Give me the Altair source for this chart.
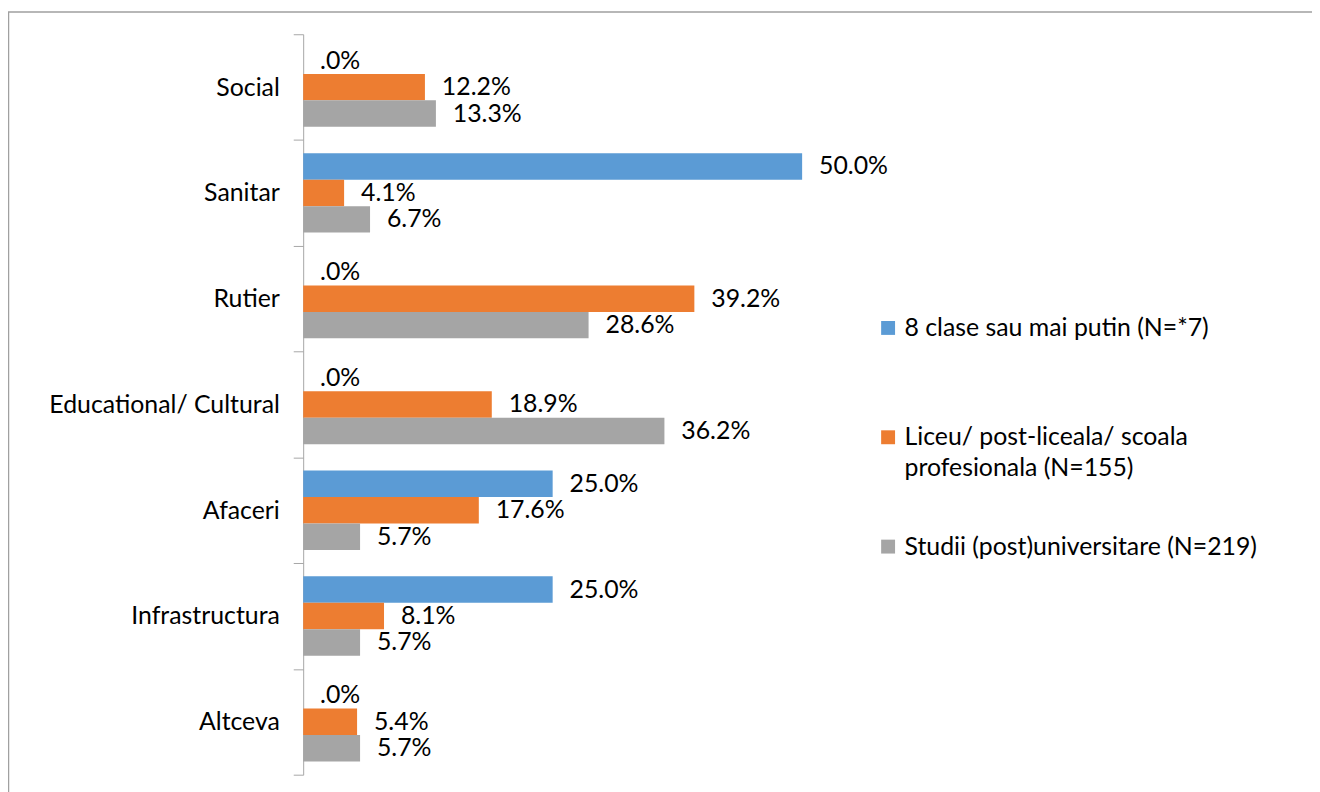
import altair as alt
import pandas as pd

categories = ["Social", "Sanitar", "Rutier", "Educational/ Cultural", "Afaceri", "Infrastructura", "Altceva"]
series = ["8 clase sau mai putin (N=*7)",
          "Liceu/ post-liceala/ scoala profesionala (N=155)",
          "Studii (post)universitare (N=219)"]
colors = ["#5B9BD5", "#ED7D31", "#A5A5A5"]
v_8clase = [0.0, 50.0, 0.0, 0.0, 25.0, 25.0, 0.0]
v_liceu = [12.2, 4.1, 39.2, 18.9, 17.6, 8.1, 5.4]
v_studii = [13.3, 6.7, 28.6, 36.2, 5.7, 5.7, 5.7]

rows = []
for s, vals in zip(series, [v_8clase, v_liceu, v_studii]):
    for c, v in zip(categories, vals):
        rows.append({"cat": c, "series": s, "v": v})
df = pd.DataFrame(rows)

FONT = "Lato"
FS = 25
W, H = 502, 745

y_enc = alt.Y("cat:N", sort=categories,
              scale=alt.Scale(paddingInner=0, paddingOuter=0),
              axis=alt.Axis(title=None, labelFont=FONT, labelFontSize=FS, labelColor="#000000",
                            labelPadding=14, tickSize=10, tickColor="#A6A6A6",
                            domainColor="#A6A6A6", tickBand="extent", labelLimit=400))
yoff = alt.YOffset("series:N", sort=series,
                   scale=alt.Scale(paddingInner=0, paddingOuter=0.5))
x_enc = alt.X("v:Q", scale=alt.Scale(domain=[0, 50]), axis=None)

base = alt.Chart(df)

bars = base.mark_bar().encode(
    y=y_enc, yOffset=yoff, x=x_enc,
    color=alt.Color("series:N", sort=series,
                    scale=alt.Scale(domain=series, range=colors),
                    legend=alt.Legend(title=None, orient="none", legendX=576, legendY=283,
                                      symbolType="square", symbolSize=196, symbolStrokeWidth=0,
                                      labelFont=FONT, labelFontSize=FS, labelColor="#000000",
                                      labelOffset=4, rowPadding=53, labelLimit=600,
                                      gridAlign="all",
                                      labelExpr="datum.label == 'Liceu/ post-liceala/ scoala profesionala (N=155)' ? ['Liceu/ post-liceala/ scoala', 'profesionala (N=155)'] : datum.label")),
)

labels = base.mark_text(align="left", baseline="middle", dx=17, font=FONT, fontSize=FS,
                        color="#000000").encode(
    y=alt.Y("cat:N", sort=categories), yOffset=yoff, x="v:Q",
    text="lbl:N",
).transform_calculate(lbl="datum.v == 0 ? '.0%' : format(datum.v, '.1f') + '%'")

frame = alt.Chart(pd.DataFrame({"a": [0]})).mark_rect(
    fill=None, stroke="#A0A0A0", strokeWidth=1.5
).encode(x=alt.value(-296.5), x2=alt.value(1100), y=alt.value(-22.5), y2=alt.value(900))

chart = alt.layer(frame, bars, labels).properties(
    width=W, height=H,
    background="#FFFFFF",
    autosize=alt.AutoSizeParams(type="none"),
    padding={"left": 297, "top": 24, "right": 513, "bottom": 15},
).configure(style={"guide-label": {"lineHeight": 31}}).configure_view(stroke=None)

chart.save("out.html", embed_options={"renderer": "svg", "actions": False})
